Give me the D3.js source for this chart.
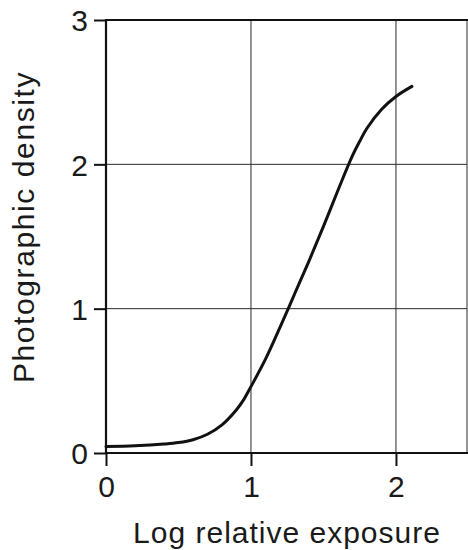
<!DOCTYPE html>
<html>
<head>
<meta charset="utf-8">
<script src="https://cdn.jsdelivr.net/npm/d3@7"></script>
<style>
  html, body { margin: 0; padding: 0; background: #fff; }
  svg { display: block; }
  text { font-family: "Liberation Sans", Arial, Helvetica, sans-serif; fill: #1a1a1a; }
</style>
</head>
<body>
<svg id="chart" width="468" height="550"></svg>
<script>
// Characteristic (H&D) curve of a photographic emulsion
const logExposure = [0, 0.2, 0.4, 0.5, 0.6, 0.7, 0.8, 0.9, 0.95, 1.0, 1.1, 1.2, 1.3, 1.4, 1.5, 1.6, 1.7, 1.75, 1.8, 1.9, 2.0, 2.11];
const density     = [0.045, 0.05, 0.062, 0.072, 0.092, 0.13, 0.195, 0.3, 0.37, 0.46, 0.65, 0.87, 1.1, 1.33, 1.57, 1.82, 2.06, 2.16, 2.25, 2.38, 2.47, 2.54];

const xTicks = [0, 1, 2];
const yTicks = [0, 1, 2, 3];
const xTitle = "Log relative exposure";
const yTitle = "Photographic density";

const svg = d3.select("#chart");
const plotLeft = 106, plotRight = 467, plotTop = 20, plotBottom = 453;

const x = d3.scaleLinear().domain([0, 2.49]).range([plotLeft, plotRight]);
const y = d3.scaleLinear().domain([0, 3]).range([plotBottom, plotTop]);

// grid lines
const grid = svg.append("g").attr("stroke", "#2a2a2a").attr("stroke-width", 1);
grid.selectAll("line.vx").data(xTicks.filter(d => d > 0)).join("line")
  .attr("x1", d => x(d)).attr("x2", d => x(d))
  .attr("y1", y(3)).attr("y2", y(0));
grid.selectAll("line.hy").data(yTicks.filter(d => d > 0 && d < 3)).join("line")
  .attr("x1", x(0)).attr("x2", plotRight)
  .attr("y1", d => y(d)).attr("y2", d => y(d));
// right frame edge
grid.append("line").attr("x1", plotRight).attr("x2", plotRight).attr("y1", y(3)).attr("y2", y(0));

// axes
const xAxis = d3.axisBottom(x).tickValues(xTicks).tickSize(13).tickPadding(10).tickFormat(d3.format("d"));
const yAxis = d3.axisLeft(y).tickValues(yTicks).tickSize(12).tickPadding(6).tickFormat(d3.format("d"));

const gx = svg.append("g").attr("transform", `translate(0,${plotBottom})`).call(xAxis);
const gy = svg.append("g").attr("transform", `translate(${plotLeft},0)`).call(yAxis);

[gx, gy].forEach(g => {
  g.select(".domain").remove();
  g.selectAll(".tick line").attr("stroke", "#111").attr("stroke-width", 2);
  g.selectAll(".tick text").style("font-size", "30px").attr("fill", "#1a1a1a");
});
gy.selectAll(".tick text").attr("dy", "0.36em");

// frame: bottom axis, left axis, top edge
const frame = svg.append("g").attr("stroke", "#111").attr("stroke-width", 2.2);
frame.append("line").attr("x1", x(0) - 1).attr("x2", 468).attr("y1", y(0)).attr("y2", y(0));
frame.append("line").attr("x1", x(0)).attr("x2", x(0)).attr("y1", y(3) - 1).attr("y2", y(0) + 1);
frame.append("line").attr("x1", x(0) - 1).attr("x2", 468).attr("y1", y(3)).attr("y2", y(3));

// curve
const pts = logExposure.map((e, i) => [e, density[i]]);
svg.append("path")
  .datum(pts)
  .attr("fill", "none")
  .attr("stroke", "#111")
  .attr("stroke-width", 3)
  .attr("stroke-linecap", "round")
  .attr("d", d3.line().x(d => x(d[0])).y(d => y(d[1])).curve(d3.curveCatmullRom.alpha(0.5)));

// titles
svg.append("text")
  .attr("x", 287).attr("y", 543)
  .attr("text-anchor", "middle")
  .style("font-size", "30px")
  .style("letter-spacing", "1px")
  .text(xTitle);

svg.append("text")
  .attr("transform", `translate(34,227) rotate(-90)`)
  .attr("text-anchor", "middle")
  .style("font-size", "30px")
  .style("letter-spacing", "1.6px")
  .text(yTitle);
</script>
</body>
</html>
